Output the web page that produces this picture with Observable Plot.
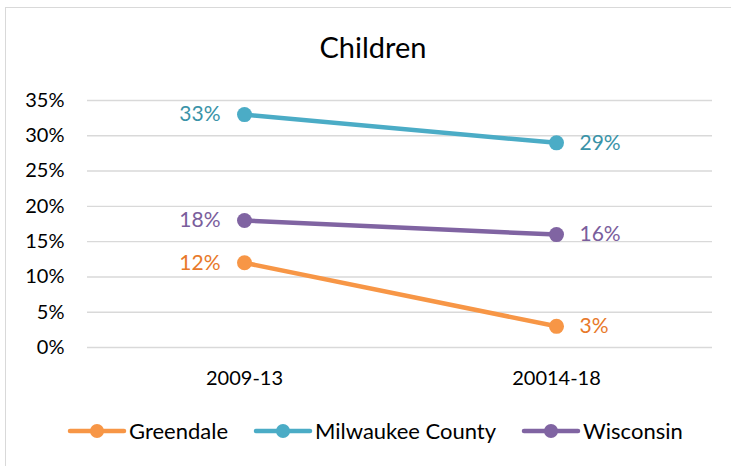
<!DOCTYPE html>
<html><head><meta charset="utf-8">
<script src="https://cdn.jsdelivr.net/npm/d3@7"></script>
<script src="https://cdn.jsdelivr.net/npm/@observablehq/plot@0.6"></script>
<style>
body{margin:0;background:#fff;}
#wrap{position:relative;width:731px;height:466px;overflow:hidden;font-family:Lato,"Open Sans",sans-serif;background:#fff;}
#frame{position:absolute;left:5px;top:7px;width:760px;height:480px;border-left:1px solid #d9d9d9;border-top:1px solid #d9d9d9;}
#title{position:absolute;top:30px;left:0;width:746px;text-align:center;font-size:29px;line-height:34px;color:#000;}
#chart{position:absolute;left:0;top:70px;}
#legend{position:absolute;top:418px;left:67px;display:flex;gap:25px;align-items:center;font-size:22px;line-height:26px;color:#000;}
.item{display:flex;align-items:center;gap:2px;}
.item svg{display:block;}
</style>
</head><body>
<div id="wrap">
  <div id="frame"></div>
  <div id="title">Children</div>
  <div id="chart"></div>
  <div id="legend"></div>
</div>
<script>
const periods = ["2009-13", "20014-18"];
const seriesNames = ["Greendale", "Milwaukee County", "Wisconsin"];
const greendale = [12, 3];
const milwaukee = [33, 29];
const wisconsin = [18, 16];
const yTicks = [0, 5, 10, 15, 20, 25, 30, 35];
const lineColors = ["#F79646", "#4BACC6", "#8064A2"];
const labelColors = ["#E8792A", "#3A93A8", "#7A5E9C"];

const valuesBySeries = [greendale, milwaukee, wisconsin];
const data = [];
seriesNames.forEach((s, i) => {
  periods.forEach((p, j) => {
    data.push({series: s, period: p, value: valuesBySeries[i][j], idx: j});
  });
});

const colorScale = {domain: seriesNames, range: lineColors};
const labelColorOf = Object.fromEntries(seriesNames.map((s, i) => [s, labelColors[i]]));

const chart = Plot.plot({
  width: 731,
  height: 325,
  marginLeft: 87,
  marginRight: 19,
  marginTop: 30,
  marginBottom: 48,
  style: {fontFamily: "Lato, 'Open Sans', sans-serif", background: "transparent", overflow: "visible"},
  x: {domain: periods, padding: 0.5, label: null},
  y: {domain: [0, 35], label: null},
  color: colorScale,
  marks: [
    Plot.gridY(yTicks, {stroke: "#d9d9d9", strokeOpacity: 1, strokeWidth: 1.4}),
    Plot.axisY(yTicks, {tickSize: 0, tickPadding: 23, fontSize: 20, fill: "#000", tickFormat: d => d + "%", label: null}),
    Plot.axisX({tickSize: 0, tickPadding: 23, fontSize: 20, fill: "#000", label: null}),
    Plot.line(data, {x: "period", y: "value", z: "series", stroke: "series", strokeWidth: 4.5, strokeLinecap: "round"}),
    Plot.dot(data, {x: "period", y: "value", fill: "series", r: 7.5}),
    Plot.text(data.filter(d => d.idx === 0), {x: "period", y: "value", text: d => d.value + "%", fill: d => labelColorOf[d.series], textAnchor: "end", dx: -24, fontSize: 21}),
    Plot.text(data.filter(d => d.idx === 1), {x: "period", y: "value", text: d => d.value + "%", fill: d => labelColorOf[d.series], textAnchor: "start", dx: 23, fontSize: 21})
  ]
});
document.getElementById("chart").appendChild(chart);

const legend = document.getElementById("legend");
seriesNames.forEach((s, i) => {
  const item = document.createElement("div");
  item.className = "item";
  item.innerHTML = `<svg width="60" height="16"><line x1="3" y1="8" x2="57" y2="8" stroke="${lineColors[i]}" stroke-width="4.5" stroke-linecap="round"/><circle cx="30" cy="8" r="7" fill="${lineColors[i]}"/></svg><span>${s}</span>`;
  legend.appendChild(item);
});
</script>
</body></html>
